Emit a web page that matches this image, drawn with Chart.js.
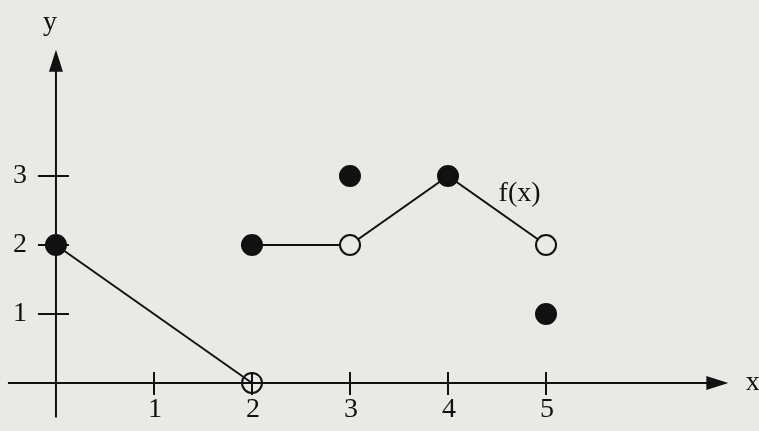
<!DOCTYPE html>
<html>
<head>
<meta charset="utf-8">
<script src="https://cdn.jsdelivr.net/npm/chart.js@4/dist/chart.umd.min.js"></script>
<style>
  html, body { margin: 0; padding: 0; background: #e9e9e6; }
  #wrap { width: 759px; height: 431px; position: relative; }
</style>
</head>
<body>
<div id="wrap"><canvas id="fxChart"></canvas></div>
<script>
/* ---------------- DATA ---------------- */
const xTicks = [1, 2, 3, 4, 5];
const yTicks = [1, 2, 3];

// solid pieces of f(x)
const lineA = [[0, 2], [2, 0]];
const lineB = [[2, 2], [3, 2], [4, 3], [5, 2]];

// filled (included) points, open (excluded) points
const filledPoints = [[0, 2], [2, 2], [3, 3], [4, 3], [5, 1]];
const openPoints = [[3, 2], [5, 2]];
const openOnAxis = [[2, 0]];

// axis extents (data units) and label anchors
const xAxisRange = [-0.49, 6.86];
const yAxisRange = [-0.5, 4.83];
const xView = [-0.571, 7.173];
const yView = [-0.696, 5.551];
const funcLabel = { text: "f(x)", x: 4.73, y: 2.75 };
const xName = { text: "x", x: 7.11, y: 0 };
const yName = { text: "y", x: -0.06, y: 5.23 };

/* ---------------- HELPERS ---------------- */
const ink = "#111111";
const serif = "'Liberation Serif', 'Times New Roman', serif";
const toXY = (arr) => arr.map((p) => ({ x: p[0], y: p[1] }));

/* ---------------- AXES PLUGIN ---------------- */
const axesPlugin = {
  id: "handAxes",
  beforeDatasetsDraw(chart) {
    const ctx = chart.ctx;
    const xs = chart.scales.x;
    const ys = chart.scales.y;
    const x0 = xs.getPixelForValue(0);
    const y0 = ys.getPixelForValue(0);

    ctx.save();
    ctx.strokeStyle = ink;
    ctx.fillStyle = ink;
    ctx.lineWidth = 2;

    // x axis
    const xl = xs.getPixelForValue(xAxisRange[0]);
    const xr = xs.getPixelForValue(xAxisRange[1]);
    ctx.beginPath();
    ctx.moveTo(xl, y0);
    ctx.lineTo(xr - 18, y0);
    ctx.stroke();
    ctx.beginPath();
    ctx.moveTo(xr, y0);
    ctx.lineTo(xr - 22, y0 - 7);
    ctx.lineTo(xr - 22, y0 + 7);
    ctx.closePath();
    ctx.fill();

    // y axis
    const yb = ys.getPixelForValue(yAxisRange[0]);
    const yt = ys.getPixelForValue(yAxisRange[1]);
    ctx.beginPath();
    ctx.moveTo(x0, yb);
    ctx.lineTo(x0, yt + 18);
    ctx.stroke();
    ctx.beginPath();
    ctx.moveTo(x0, yt);
    ctx.lineTo(x0 - 7, yt + 22);
    ctx.lineTo(x0 + 7, yt + 22);
    ctx.closePath();
    ctx.fill();

    // ticks and labels
    ctx.font = "28px " + serif;
    ctx.textBaseline = "middle";
    ctx.textAlign = "center";
    xTicks.forEach((v) => {
      const px = xs.getPixelForValue(v);
      ctx.beginPath();
      ctx.moveTo(px, y0 - 11);
      ctx.lineTo(px, y0 + 12);
      ctx.stroke();
      ctx.fillText(String(v), px + 1, y0 + 27);
    });
    ctx.textAlign = "right";
    yTicks.forEach((v) => {
      const py = ys.getPixelForValue(v);
      ctx.beginPath();
      ctx.moveTo(x0 - 18, py);
      ctx.lineTo(x0 + 13, py);
      ctx.stroke();
      ctx.fillText(String(v), x0 - 29, py);
    });

    ctx.textAlign = "center";
    [xName, yName, funcLabel].forEach((t) => {
      ctx.fillText(t.text, xs.getPixelForValue(t.x), ys.getPixelForValue(t.y));
    });
    ctx.restore();
  },
};

/* ---------------- CHART ---------------- */
const pointStyle = {
  showLine: false,
  pointRadius: 10,
  pointHoverRadius: 10,
  pointBorderWidth: 2,
  pointBorderColor: ink,
};
const lineStyle = {
  showLine: true,
  borderColor: ink,
  borderWidth: 2,
  pointRadius: 0,
  pointHoverRadius: 0,
  tension: 0,
  order: 2,
};

new Chart(document.getElementById("fxChart"), {
  type: "scatter",
  data: {
    datasets: [
      { label: "filled", data: toXY(filledPoints), pointBackgroundColor: ink, order: 0, ...pointStyle },
      { label: "open", data: toXY(openPoints), pointBackgroundColor: "#e9e9e6", order: 0, ...pointStyle },
      { label: "open on axis", data: toXY(openOnAxis), pointBackgroundColor: "rgba(0,0,0,0)", order: 0, ...pointStyle },
      { label: "piece A", data: toXY(lineA), ...lineStyle },
      { label: "piece B", data: toXY(lineB), ...lineStyle },
    ],
  },
  options: {
    responsive: true,
    maintainAspectRatio: false,
    animation: false,
    layout: { padding: 0, autoPadding: false },
    plugins: { legend: { display: false }, tooltip: { enabled: false } },
    scales: {
      x: { type: "linear", min: xView[0], max: xView[1], display: false },
      y: { type: "linear", min: yView[0], max: yView[1], display: false },
    },
  },
  plugins: [axesPlugin],
});
</script>
</body>
</html>
